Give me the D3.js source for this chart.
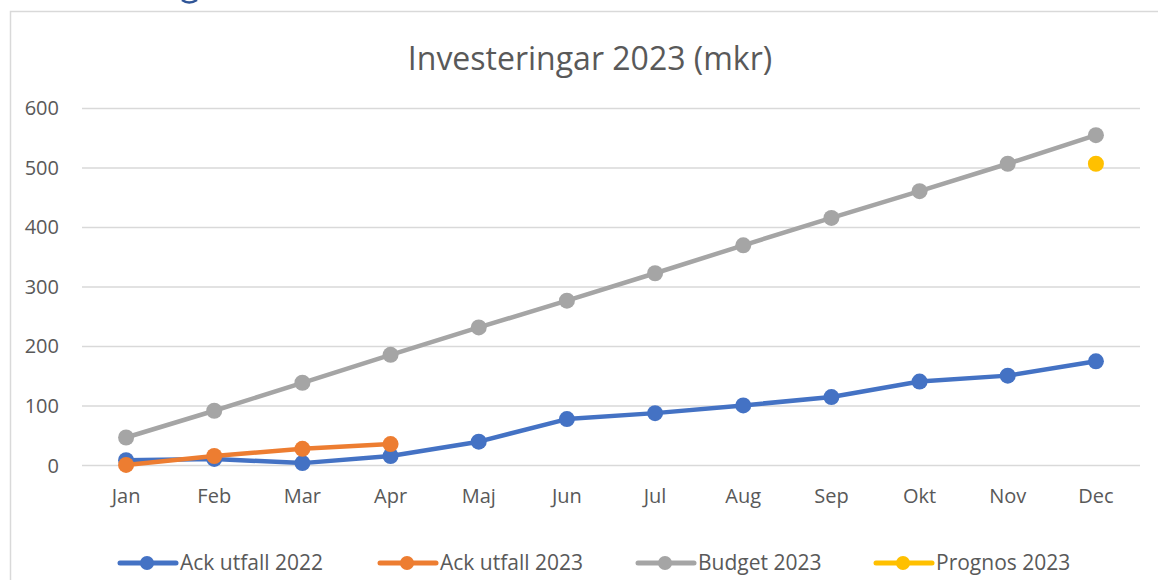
<!DOCTYPE html>
<html>
<head>
    <meta charset="UTF-8">
    <title>Investeringar 2023</title>
    <style>
        body { margin: 0; background: #fff; }
        svg { display: block; }
        text { font-family: "Open Sans", sans-serif; fill: #595959; }
        .grid line { stroke: #d9d9d9; stroke-width: 1.5px; }
    </style>
</head>
<body>
    <svg id="chart" width="1158" height="580"></svg>

    <script src="https://cdn.jsdelivr.net/npm/d3@7"></script>
    <script>
        // data
        var months = ["Jan", "Feb", "Mar", "Apr", "Maj", "Jun", "Jul", "Aug", "Sep", "Okt", "Nov", "Dec"];
        var ack2022 = [9, 11, 4, 16, 40, 78, 88, 101, 115, 141, 151, 175];
        var ack2023 = [1, 16, 28, 36];
        var budget2023 = [47, 92, 139, 186, 232, 277, 323, 370, 416, 461, 507, 555];
        var prognos2023 = [null, null, null, null, null, null, null, null, null, null, null, 507];
        var yTicks = [0, 100, 200, 300, 400, 500, 600];

        var series = [
            { name: "Ack utfall 2022", values: ack2022, color: "#4472c4", line: true },
            { name: "Ack utfall 2023", values: ack2023, color: "#ed7d31", line: true },
            { name: "Budget 2023", values: budget2023, color: "#a5a5a5", line: true },
            { name: "Prognos 2023", values: prognos2023, color: "#ffc000", line: false }
        ];

        var svg = d3.select("#chart");

        // chart frame (runs off the right / bottom edge like the reference)
        svg.append("rect")
            .attr("x", 10.5).attr("y", 11.5)
            .attr("width", 1200).attr("height", 620)
            .attr("fill", "none")
            .attr("stroke", "#d9d9d9")
            .attr("stroke-width", 1.5);

        // tail of a page heading letter peeking in at the top
        svg.append("path")
            .attr("d", "M182,0 Q189,5 197,0")
            .attr("fill", "none")
            .attr("stroke", "#2f5597")
            .attr("stroke-width", 2.5);

        var x = d3.scaleBand().domain(months).range([82, 1140]);
        var y = d3.scaleLinear().domain([0, 600]).range([465.5, 108.4]);
        var cx = d => x(d) + x.bandwidth() / 2;

        svg.append("text")
            .attr("x", 590).attr("y", 70)
            .attr("text-anchor", "middle")
            .style("font-size", "32px")
            .text("Investeringar 2023 (mkr)");

        // gridlines
        svg.append("g").attr("class", "grid")
            .selectAll("line")
            .data(yTicks)
            .join("line")
            .attr("x1", 82).attr("x2", 1140)
            .attr("y1", d => y(d)).attr("y2", d => y(d));

        // y labels
        svg.append("g")
            .selectAll("text")
            .data(yTicks)
            .join("text")
            .attr("x", 59)
            .attr("y", d => y(d) + 7)
            .attr("text-anchor", "end")
            .style("font-size", "20px")
            .text(d => d);

        // x labels
        svg.append("g")
            .selectAll("text")
            .data(months)
            .join("text")
            .attr("x", d => cx(d))
            .attr("y", 503)
            .attr("text-anchor", "middle")
            .style("font-size", "20px")
            .text(d => d);

        var line = d3.line()
            .defined(d => d.v != null)
            .x(d => cx(d.m))
            .y(d => y(d.v));

        series.forEach(function (s) {
            var pts = s.values.map((v, i) => ({ m: months[i], v: v }));
            if (s.line) {
                svg.append("path")
                    .datum(pts)
                    .attr("fill", "none")
                    .attr("stroke", s.color)
                    .attr("stroke-width", 4.5)
                    .attr("stroke-linejoin", "round")
                    .attr("d", line);
            }
            svg.append("g")
                .selectAll("circle")
                .data(pts.filter(d => d.v != null))
                .join("circle")
                .attr("cx", d => cx(d.m))
                .attr("cy", d => y(d.v))
                .attr("r", 8)
                .attr("fill", s.color);
        });

        // legend
        var legendX = [120, 380, 638, 876];
        var lg = svg.append("g")
            .selectAll("g")
            .data(series)
            .join("g")
            .attr("transform", (d, i) => "translate(" + legendX[i] + ",563)");
        lg.append("line")
            .attr("x1", 0).attr("x2", 56)
            .attr("stroke", d => d.color)
            .attr("stroke-width", 5)
            .attr("stroke-linecap", "round");
        lg.append("circle")
            .attr("cx", 27).attr("r", 7)
            .attr("fill", d => d.color);
        lg.append("text")
            .attr("x", 60).attr("y", 7)
            .style("font-size", "21px")
            .text(d => d.name);
    </script>
</body>
</html>
